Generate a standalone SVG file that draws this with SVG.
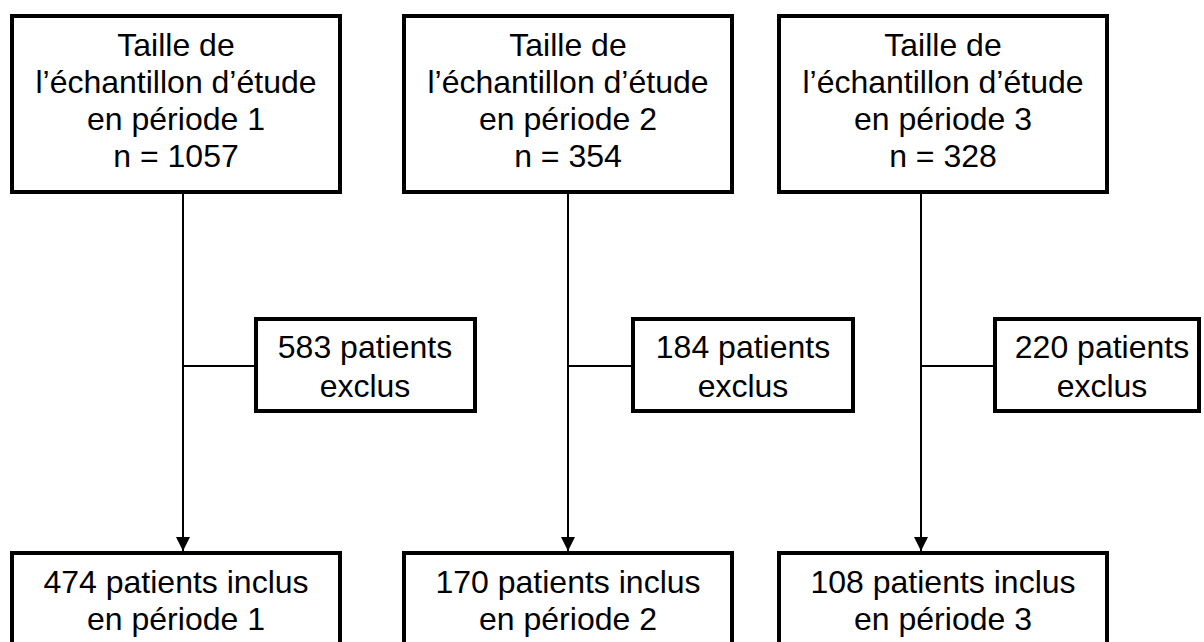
<svg xmlns="http://www.w3.org/2000/svg" width="1204" height="642" viewBox="0 0 1204 642">
<style>
.box{fill:#fff;stroke:#000;stroke-width:4}
.t{font-family:"Liberation Sans",Arial,sans-serif;font-size:32px;fill:#000;text-anchor:middle}
.ln{stroke:#000;stroke-width:2;fill:none}
</style>
<defs>
<marker id="ah" markerWidth="16" markerHeight="14" refX="16" refY="8" orient="auto" markerUnits="userSpaceOnUse" viewBox="0 0 16 16">
<path d="M0,0 L16,8 L0,16 Z" fill="#000"/>
</marker>
</defs>
<rect width="1204" height="642" fill="#fff"/>
<g id="connectors">
<line class="ln" x1="183" y1="194" x2="183" y2="551" marker-end="url(#ah)"/>
<line class="ln" x1="183" y1="366" x2="254" y2="366"/>
<line class="ln" x1="568" y1="194" x2="568" y2="551" marker-end="url(#ah)"/>
<line class="ln" x1="568" y1="366" x2="631" y2="366"/>
<line class="ln" x1="921" y1="194" x2="921" y2="551" marker-end="url(#ah)"/>
<line class="ln" x1="921" y1="366" x2="993" y2="366"/>
</g>
<g id="top1">
<rect class="box" x="12" y="16" width="328" height="176"/>
<text class="t" x="176" y="56">Taille de</text>
<text class="t" x="176" y="93">l’échantillon d’étude</text>
<text class="t" x="176" y="130">en période 1</text>
<text class="t" x="176" y="167">n = 1057</text>
</g>
<g id="top2">
<rect class="box" x="404" y="16" width="328" height="176"/>
<text class="t" x="568" y="56">Taille de</text>
<text class="t" x="568" y="93">l’échantillon d’étude</text>
<text class="t" x="568" y="130">en période 2</text>
<text class="t" x="568" y="167">n = 354</text>
</g>
<g id="top3">
<rect class="box" x="779" y="16" width="328" height="176"/>
<text class="t" x="943" y="56">Taille de</text>
<text class="t" x="943" y="93">l’échantillon d’étude</text>
<text class="t" x="943" y="130">en période 3</text>
<text class="t" x="943" y="167">n = 328</text>
</g>
<g id="excl1">
<rect class="box" x="256" y="319" width="219" height="92"/>
<text class="t" x="365" y="358">583 patients</text>
<text class="t" x="365" y="397">exclus</text>
</g>
<g id="excl2">
<rect class="box" x="633" y="319" width="220" height="92"/>
<text class="t" x="743" y="358">184 patients</text>
<text class="t" x="743" y="397">exclus</text>
</g>
<g id="excl3">
<rect class="box" x="995" y="319" width="204" height="92"/>
<text class="t" x="1102" y="358">220 patients</text>
<text class="t" x="1102" y="397">exclus</text>
</g>
<g id="incl1">
<rect class="box" x="12" y="553" width="328" height="110"/>
<text class="t" x="176" y="593">474 patients inclus</text>
<text class="t" x="176" y="630">en période 1</text>
</g>
<g id="incl2">
<rect class="box" x="404" y="553" width="328" height="110"/>
<text class="t" x="568" y="593">170 patients inclus</text>
<text class="t" x="568" y="630">en période 2</text>
</g>
<g id="incl3">
<rect class="box" x="779" y="553" width="328" height="110"/>
<text class="t" x="943" y="593">108 patients inclus</text>
<text class="t" x="943" y="630">en période 3</text>
</g>
</svg>
